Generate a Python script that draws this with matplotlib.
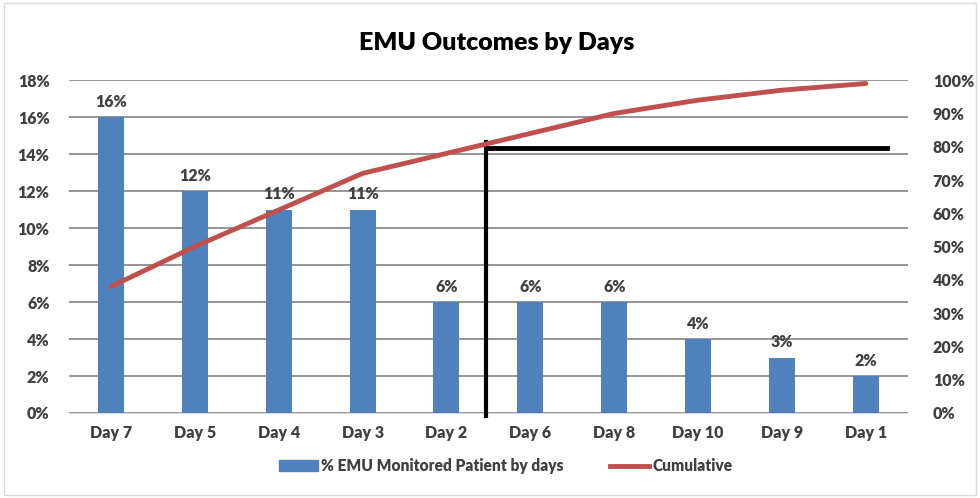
import matplotlib.pyplot as plt
from matplotlib.patches import Rectangle
from matplotlib.lines import Line2D
from matplotlib.ticker import FuncFormatter

plt.rcParams['font.family'] = ['Lato', 'DejaVu Sans']

# Data
days = ["Day 7", "Day 5", "Day 4", "Day 3", "Day 2", "Day 6", "Day 8", "Day 10", "Day 9", "Day 1"]
pct_patients = [16, 12, 11, 11, 6, 6, 6, 4, 3, 2]
cumulative = [38, 50, 61, 72, 78, 84, 90, 94, 97, 99]

# cutoff marker (80% line)
cut_x = 4.47
cut_top = 81.5
cut_level = 79.5
cut_end = 9.25

txt = "#404040"
W = "heavy"
fig = plt.figure(figsize=(9.8, 4.98), dpi=100)
ax = fig.add_axes([0.0704, 0.1707, 0.856, 0.6683])
ax2 = ax.twinx()

x = range(len(days))
ax.bar(x, pct_patients, width=0.31, color="#4F81BD", zorder=3)
for i, v in enumerate(pct_patients):
    ax.text(i, v + 0.4, f"{v}%", ha="center", va="bottom", fontsize=11.5,
            fontweight=W, color=txt)

ax.set_ylim(0, 18)
ax.set_xlim(-0.5, len(days) - 0.5)
ax.set_yticks(range(0, 19, 2))
ax.yaxis.set_major_formatter(FuncFormatter(lambda v, p: f"{v:.0f}%"))
ax.grid(axis="y", color="#8c8c8c", lw=1.3, zorder=0)
ax.set_axisbelow(True)
ax.set_xticks(list(x))
ax.set_xticklabels(days)

ax2.plot(x, cumulative, color="#C0504D", lw=3.5, solid_capstyle="round", zorder=4)
ax2.set_ylim(0, 100)
ax2.set_yticks(range(0, 101, 10))
ax2.yaxis.set_major_formatter(FuncFormatter(lambda v, p: f"{v:.0f}%"))
ax2.plot([cut_x, cut_x], [-0.8, cut_top], color="black", lw=3, clip_on=False)
ax2.plot([cut_x, cut_end], [cut_level, cut_level], color="black", lw=3.5)

for a in (ax, ax2):
    for s in a.spines.values():
        s.set_visible(False)
    a.tick_params(length=0, labelsize=11.5, labelcolor=txt)
    for lab in a.get_xticklabels() + a.get_yticklabels():
        lab.set_fontweight(W)
ax.spines["bottom"].set_visible(True)
ax.spines["bottom"].set_color("#d9d9d9")
ax.tick_params(axis="y", pad=14)
ax.tick_params(axis="x", pad=9)
ax2.tick_params(axis="y", pad=18)

fig.text(0.507, 0.913, "EMU Outcomes by Days", ha="center", va="center",
         fontsize=18, fontweight=W, color="black")

handles = [Rectangle((0, 0), 1, 1, color="#4F81BD"),
           Line2D([0], [0], color="#C0504D", lw=3.5)]
leg = fig.legend(handles, ["% EMU Monitored Patient by days", "Cumulative"],
                 loc="center", bbox_to_anchor=(0.516, 0.064), ncol=2, frameon=False,
                 columnspacing=3.0, handlelength=2.5, handletextpad=0.2,
                 prop={"weight": W, "size": 11.2})
for t in leg.get_texts():
    t.set_color(txt)

fig.patches.append(Rectangle((0.004, 0.006), 0.992, 0.988, transform=fig.transFigure,
                             fill=False, edgecolor="#d9d9d9", lw=1))

fig.savefig("out.png", dpi=100)
